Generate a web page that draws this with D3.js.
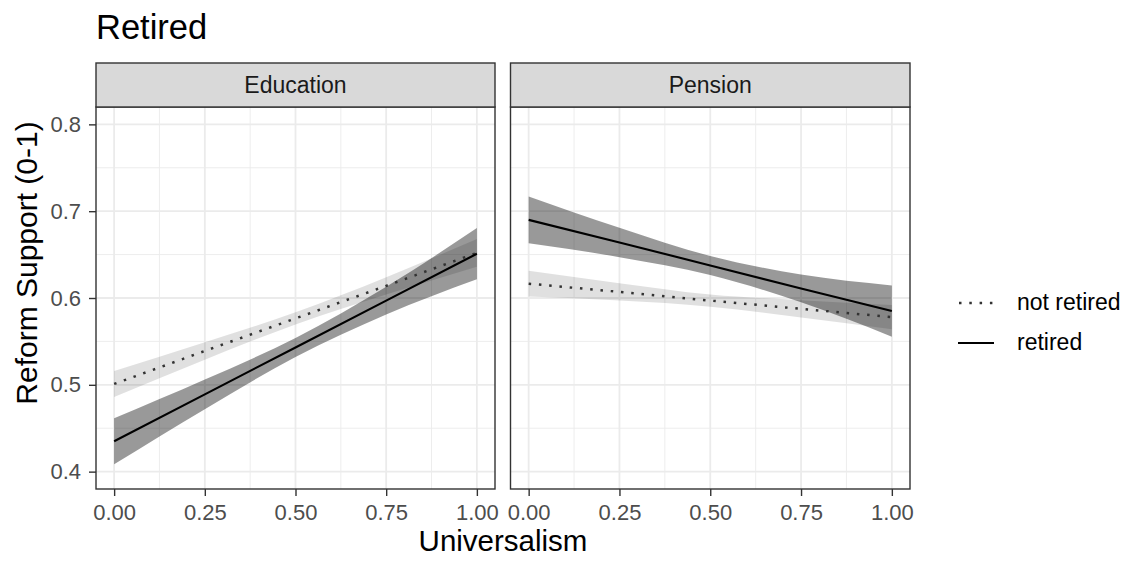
<!DOCTYPE html>
<html>
<head>
<meta charset="utf-8">
<script src="https://cdn.jsdelivr.net/npm/d3@7"></script>
<style>
  html, body { margin: 0; padding: 0; background: #fff; }
  svg text { font-family: "Liberation Sans", Arial, sans-serif; }
</style>
</head>
<body>
<svg id="chart" width="1127" height="561"></svg>
<script>
// Predicted reform support by universalism, split by retirement status
const panels = ["Education", "Pension"];
const groups = ["not retired", "retired"];
const universalism = [0, 0.25, 0.5, 0.75, 1];

const xTicks = [0, 0.25, 0.5, 0.75, 1];
const xTickLabels = ["0.00", "0.25", "0.50", "0.75", "1.00"];
const yTicks = [0.4, 0.5, 0.6, 0.7, 0.8];
const yTickLabels = ["0.4", "0.5", "0.6", "0.7", "0.8"];

// Education panel
const eduNotRetiredFit   = [0.501, 0.539, 0.5765, 0.614, 0.652];
const eduNotRetiredLower = [0.486, 0.529, 0.5695, 0.604, 0.636];
const eduNotRetiredUpper = [0.516, 0.549, 0.5835, 0.624, 0.668];
const eduRetiredFit      = [0.435, 0.489, 0.543, 0.597, 0.651];
const eduRetiredLower    = [0.4085, 0.472, 0.532, 0.581, 0.6215];
const eduRetiredUpper    = [0.4615, 0.506, 0.554, 0.613, 0.6805];

// Pension panel
const penNotRetiredFit   = [0.6165, 0.607, 0.597, 0.5875, 0.578];
const penNotRetiredLower = [0.6017, 0.597, 0.590, 0.5775, 0.564];
const penNotRetiredUpper = [0.6313, 0.617, 0.604, 0.5975, 0.592];
const penRetiredFit      = [0.690, 0.664, 0.6375, 0.611, 0.585];
const penRetiredLower    = [0.663, 0.647, 0.6265, 0.595, 0.5555];
const penRetiredUpper    = [0.717, 0.681, 0.6485, 0.627, 0.6145];

const series = {
  "Education": {
    "not retired": { fit: eduNotRetiredFit, lower: eduNotRetiredLower, upper: eduNotRetiredUpper },
    "retired":     { fit: eduRetiredFit,    lower: eduRetiredLower,    upper: eduRetiredUpper }
  },
  "Pension": {
    "not retired": { fit: penNotRetiredFit, lower: penNotRetiredLower, upper: penNotRetiredUpper },
    "retired":     { fit: penRetiredFit,    lower: penRetiredLower,    upper: penRetiredUpper }
  }
};

const style = {
  "not retired": { ribbonOpacity: 0.12, dash: "2.5 7.8", width: 2.5, color: "#333" },
  "retired":     { ribbonOpacity: 0.40, dash: null,      width: 2.1, color: "#000" }
};

const svg = d3.select("#chart");
const panelTop = 107, panelBottom = 489;
const stripTop = 63;
const panelBoxes = [
  { x0: 96, x1: 495 },
  { x0: 510.5, x1: 910 }
];
const gridColor = "#EBEBEB";
const frameColor = "#333333";
const tickFont = 22;

// y scale: 0.4..0.8 with 5% padding on each side
const yPad = 0.4 * 0.05;
const y = d3.scaleLinear().domain([0.4 - yPad, 0.8 + yPad]).range([panelBottom, panelTop]);
const yMinor = [0.45, 0.55, 0.65, 0.75];
const xMinor = [0.125, 0.375, 0.625, 0.875];

panels.forEach((name, i) => {
  const box = panelBoxes[i];
  const x = d3.scaleLinear().domain([-0.05, 1.05]).range([box.x0, box.x1]);
  const g = svg.append("g");

  // background grid
  g.selectAll(".ymin").data(yMinor).join("line")
    .attr("x1", box.x0).attr("x2", box.x1)
    .attr("y1", d => y(d)).attr("y2", d => y(d))
    .attr("stroke", gridColor).attr("stroke-width", 0.9);
  g.selectAll(".xmin").data(xMinor).join("line")
    .attr("y1", panelTop).attr("y2", panelBottom)
    .attr("x1", d => x(d)).attr("x2", d => x(d))
    .attr("stroke", gridColor).attr("stroke-width", 0.9);
  g.selectAll(".ymaj").data(yTicks).join("line")
    .attr("x1", box.x0).attr("x2", box.x1)
    .attr("y1", d => y(d)).attr("y2", d => y(d))
    .attr("stroke", gridColor).attr("stroke-width", 1.8);
  g.selectAll(".xmaj").data(xTicks).join("line")
    .attr("y1", panelTop).attr("y2", panelBottom)
    .attr("x1", d => x(d)).attr("x2", d => x(d))
    .attr("stroke", gridColor).attr("stroke-width", 1.8);

  // confidence ribbons
  groups.forEach(gr => {
    const s = series[name][gr];
    const pts = universalism.map((u, k) => ({ u, lo: s.lower[k], hi: s.upper[k] }));
    const area = d3.area().x(d => x(d.u)).y0(d => y(d.lo)).y1(d => y(d.hi)).curve(d3.curveMonotoneX);
    g.append("path").datum(pts).attr("d", area)
      .attr("fill", "#000").attr("fill-opacity", style[gr].ribbonOpacity);
  });

  // fitted lines
  groups.forEach(gr => {
    const s = series[name][gr];
    const pts = universalism.map((u, k) => ({ u, v: s.fit[k] }));
    const line = d3.line().x(d => x(d.u)).y(d => y(d.v));
    const p = g.append("path").datum(pts).attr("d", line)
      .attr("fill", "none").attr("stroke", style[gr].color)
      .attr("stroke-width", style[gr].width);
    if (style[gr].dash) p.attr("stroke-dasharray", style[gr].dash).attr("stroke-linecap", "butt");
  });

  // panel frame
  g.append("rect").attr("x", box.x0).attr("y", panelTop)
    .attr("width", box.x1 - box.x0).attr("height", panelBottom - panelTop)
    .attr("fill", "none").attr("stroke", frameColor).attr("stroke-width", 1.4);

  // strip
  g.append("rect").attr("x", box.x0).attr("y", stripTop)
    .attr("width", box.x1 - box.x0).attr("height", panelTop - stripTop)
    .attr("fill", "#D9D9D9").attr("stroke", frameColor).attr("stroke-width", 1.4);
  g.append("text").attr("x", (box.x0 + box.x1) / 2).attr("y", (stripTop + panelTop) / 2)
    .attr("dy", "0.35em").attr("text-anchor", "middle")
    .attr("font-size", 23).attr("fill", "#1A1A1A").text(name);

  // x axis
  const xAxis = d3.axisBottom(x).tickValues(xTicks)
    .tickFormat((d, k) => xTickLabels[k]).tickSize(7).tickPadding(8);
  const ax = g.append("g").attr("transform", `translate(0,${panelBottom})`).call(xAxis);
  ax.select(".domain").remove();
  ax.selectAll(".tick line").attr("stroke", frameColor).attr("stroke-width", 1.4);
  ax.selectAll(".tick text").attr("font-size", tickFont).attr("fill", "#4D4D4D")
    .attr("font-family", "Liberation Sans, Arial, sans-serif");

  if (i === 0) {
    const yAxis = d3.axisLeft(y).tickValues(yTicks)
      .tickFormat((d, k) => yTickLabels[k]).tickSize(7).tickPadding(8);
    const ay = g.append("g").attr("transform", `translate(${box.x0},0)`).call(yAxis);
    ay.select(".domain").remove();
    ay.selectAll(".tick line").attr("stroke", frameColor).attr("stroke-width", 1.4);
    ay.selectAll(".tick text").attr("font-size", tickFont).attr("fill", "#4D4D4D")
      .attr("font-family", "Liberation Sans, Arial, sans-serif");
  }
});

// titles
svg.append("text").attr("x", 96).attr("y", 39)
  .attr("font-size", 34.5).attr("fill", "#000").text("Retired");
svg.append("text").attr("x", (panelBoxes[0].x0 + panelBoxes[1].x1) / 2).attr("y", 551)
  .attr("text-anchor", "middle").attr("font-size", 29.5).attr("fill", "#000").text("Universalism");
svg.append("text").attr("transform", "translate(37,263) rotate(-90)")
  .attr("text-anchor", "middle").attr("font-size", 30).attr("fill", "#000").text("Reform Support (0-1)");

// legend
const legendY = { "not retired": 303, "retired": 343 };
groups.forEach(gr => {
  const ly = legendY[gr];
  const k = svg.append("line").attr("x1", 958).attr("x2", 994).attr("y1", ly).attr("y2", ly)
    .attr("stroke", style[gr].color).attr("stroke-width", style[gr].width);
  if (style[gr].dash) k.attr("stroke-dasharray", style[gr].dash).attr("x1", 959);
  svg.append("text").attr("x", 1017).attr("y", ly).attr("dy", "0.3em")
    .attr("font-size", 23).attr("fill", "#000").text(gr);
});
</script>
</body>
</html>
